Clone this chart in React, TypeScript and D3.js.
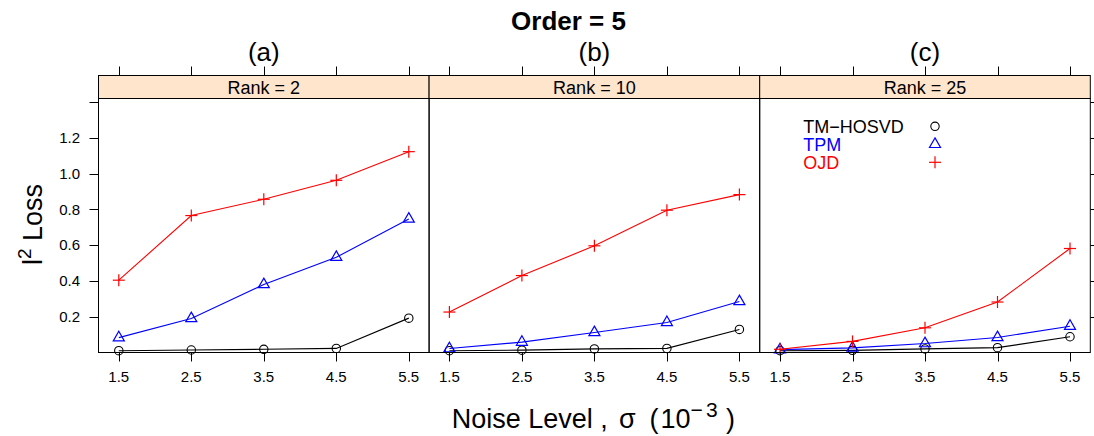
import React from "react";
import * as d3 from "d3";

const noise = [1.5, 2.5, 3.5, 4.5, 5.5];
const rankLabels = ["Rank = 2", "Rank = 10", "Rank = 25"];
const panelLetters = ["(a)", "(b)", "(c)"];
const seriesNames = ["TM\u2212HOSVD", "TPM", "OJD"];
const seriesColors = ["#000000", "#0000ff", "#ff0000"];

const hosvdR2 = [0.010, 0.014, 0.018, 0.023, 0.192];
const tpmR2 = [0.083, 0.190, 0.380, 0.532, 0.746];
const ojdR2 = [0.404, 0.765, 0.856, 0.962, 1.122];

const hosvdR10 = [0.010, 0.013, 0.020, 0.023, 0.129];
const tpmR10 = [0.022, 0.058, 0.112, 0.168, 0.285];
const ojdR10 = [0.226, 0.430, 0.596, 0.795, 0.882];

const hosvdR25 = [0.010, 0.012, 0.020, 0.027, 0.088];
const tpmR25 = [0.016, 0.026, 0.050, 0.084, 0.147];
const ojdR25 = [0.018, 0.062, 0.138, 0.282, 0.581];

const yTicks = [0.2, 0.4, 0.6, 0.8, 1.0, 1.2, 1.4];
const yTickLabels = ["0.2", "0.4", "0.6", "0.8", "1.0", "1.2", ""];
const xTickLabels = ["1.5", "2.5", "3.5", "4.5", "5.5"];

const panelsData = [
  [hosvdR2, tpmR2, ojdR2],
  [hosvdR10, tpmR10, ojdR10],
  [hosvdR25, tpmR25, ojdR25],
];

const W = 1094;
const H = 436;
const FONT = "'Liberation Sans', Arial, Helvetica, sans-serif";
const left0 = 98.5;
const panelW = 330.6;
const stripTop = 75.5;
const plotTop = 98.5;
const plotBottom = 352.5;
const tickLen = 9;

function Marker({ kind, x, y, color }: { kind: number; x: number; y: number; color: string }) {
  if (kind === 0) {
    return <circle cx={x} cy={y} r={4.2} fill="none" stroke={color} strokeWidth={1.1} />;
  }
  if (kind === 1) {
    const s = 4.1;
    const pts = [
      [x, y - 1.555 * s],
      [x + 1.347 * s, y + 0.778 * s],
      [x - 1.347 * s, y + 0.778 * s],
    ];
    return <polygon points={pts.map((p) => p.join(",")).join(" ")} fill="none" stroke={color} strokeWidth={1.2} />;
  }
  const a = 6;
  return (
    <g stroke={color} strokeWidth={1.2}>
      <line x1={x - a} y1={y} x2={x + a} y2={y} />
      <line x1={x} y1={y - a} x2={x} y2={y + a} />
    </g>
  );
}

export default function App() {
  const y = d3.scaleLinear().domain([0, 1.419]).range([plotBottom, plotTop]);

  return (
    <svg width={W} height={H} style={{ position: "absolute", left: 0, top: 0, background: "#fff" }} fontFamily={FONT}>
      <rect x={0} y={0} width={W} height={H} fill="#fff" />
      <text x={568.5} y={30} textAnchor="middle" fontSize={26} fontWeight="bold">Order = 5</text>

      {panelsData.map((series, pi) => {
        const pl = left0 + pi * panelW;
        const pr = pl + panelW;
        const x = d3.scaleLinear().domain([1.22, 5.78]).range([pl, pr]);
        const line = d3.line<number>().x((_, i) => x(noise[i])).y((d) => y(d));
        return (
          <g key={pi}>
            <text x={x(3.5)} y={61} textAnchor="middle" fontSize={26}>{panelLetters[pi]}</text>
            {noise.map((n) => (
              <line key={"tt" + n} x1={Math.round(x(n)) + 0.5} x2={Math.round(x(n)) + 0.5} y1={stripTop} y2={stripTop - tickLen} stroke="#000" strokeWidth={1} />
            ))}
            <rect x={pl} y={stripTop} width={panelW} height={plotTop - stripTop} fill="#ffe5cc" stroke="#000" strokeWidth={1} />
            <text x={(pl + pr) / 2} y={94} textAnchor="middle" fontSize={18}>{rankLabels[pi]}</text>
            {series.map((vals, si) => (
              <g key={si}>
                <path d={line(vals) || ""} fill="none" stroke={seriesColors[si]} strokeWidth={1.1} />
                {vals.map((v, i) => (
                  <Marker key={i} kind={si} x={x(noise[i])} y={y(v)} color={seriesColors[si]} />
                ))}
              </g>
            ))}
            <rect x={pl} y={plotTop} width={panelW} height={plotBottom - plotTop} fill="none" stroke="#000" strokeWidth={1} />
            {noise.map((n, i) => (
              <g key={"bt" + n}>
                <line x1={Math.round(x(n)) + 0.5} x2={Math.round(x(n)) + 0.5} y1={plotBottom} y2={plotBottom + tickLen} stroke="#000" strokeWidth={1} />
                <text x={x(n)} y={381.7} textAnchor="middle" fontSize={15}>{xTickLabels[i]}</text>
              </g>
            ))}
            {pi === 0 &&
              yTicks.map((t, i) => (
                <g key={"yl" + t}>
                  <line x1={pl - tickLen} x2={pl} y1={Math.round(y(t)) + 0.5} y2={Math.round(y(t)) + 0.5} stroke="#000" strokeWidth={1} />
                  <text x={80} y={y(t) + 5.2} textAnchor="end" fontSize={15}>{yTickLabels[i]}</text>
                </g>
              ))}
            {pi === 2 &&
              yTicks.map((t) => (
                <line key={"yr" + t} x1={pr} x2={pr + tickLen} y1={Math.round(y(t)) + 0.5} y2={Math.round(y(t)) + 0.5} stroke="#000" strokeWidth={1} />
              ))}
            {pi === 2 &&
              seriesNames.map((name, si) => (
                <g key={"lg" + si}>
                  <text x={803.3} y={132.7 + si * 18} fontSize={18} fill={seriesColors[si]}>{name}</text>
                  <Marker kind={si} x={935} y={126.3 + si * 18} color={seriesColors[si]} />
                </g>
              ))}
          </g>
        );
      })}

      <text transform="translate(41.5,224.5) rotate(-90)" textAnchor="middle" fontSize={27}>
        l<tspan dy={-11} fontSize={19}>2</tspan>
        <tspan dy={11}> Loss</tspan>
      </text>
      <text y={428} fontSize={27}>
        <tspan x={451.7}>Noise Level ,</tspan>
        <tspan x={619}>σ</tspan>
        <tspan x={649.5}>(</tspan>
        <tspan x={660.5}>10</tspan>
        <tspan x={690.5} y={416.5} fontSize={21}>−</tspan>
        <tspan x={706} y={416.5} fontSize={21}>3</tspan>
        <tspan x={726} y={428}>)</tspan>
      </text>
    </svg>
  );
}
